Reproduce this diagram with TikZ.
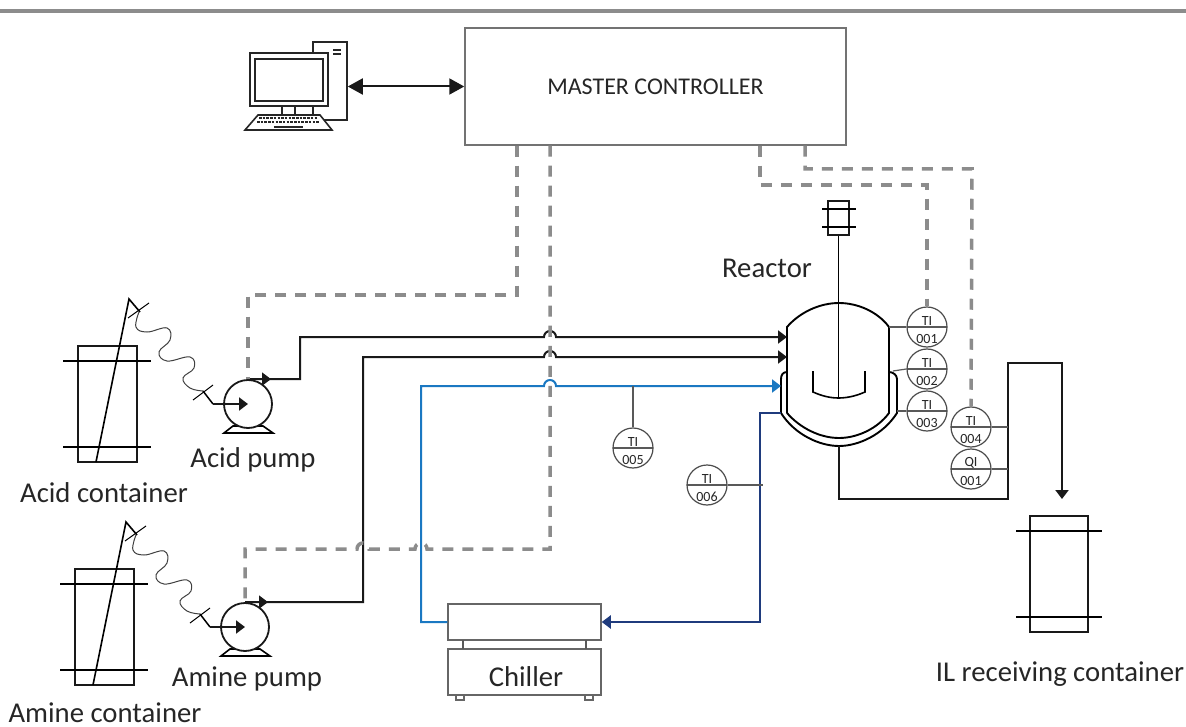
\documentclass[tikz,border=0pt]{standalone}
\usepackage{fontspec}
\setmainfont{Carlito}
\usetikzlibrary{arrows.meta, positioning}

\definecolor{signalgray}{HTML}{8C8C8C}
\definecolor{coolblue}{HTML}{1A78C2}
\definecolor{returnblue}{HTML}{1F3B7D}
\definecolor{textblack}{HTML}{262626}

\tikzset{
  pipe/.style={line width=2pt, black!90},
  tip/.style={-{Triangle[length=9pt,width=13pt]}},
  signal/.style={line width=3.5pt, signalgray, dash pattern=on 11pt off 9pt},
  thinline/.style={line width=1.2pt, black!65},
  lbl/.style={font=\fontsize{28.7}{31}\selectfont, text=textblack, inner sep=0pt},
  instrtext/.style={font=\fontsize{14}{15}\selectfont, text=textblack, inner sep=0pt},
  instr/.style 2 args={circle, draw=black!70, line width=1.2pt, fill=white, minimum size=40pt,
    inner sep=0pt,
    path picture={\draw[thinline] (path picture bounding box.west) -- (path picture bounding box.east);},
    label={[instrtext, yshift=6pt]center:#1},
    label={[instrtext, yshift=-12pt]center:#2}},
  box/.style={rectangle, draw=black!60, line width=1.5pt, fill=white, inner sep=0pt},
  pics/feedset/.style={code={
    % Container with dip tube
    \node[rectangle, draw=black!90, line width=1.8pt, minimum width=59pt, minimum height=116pt, inner sep=0pt] (tank) at (107.5,404) {};
    \draw[line width=1.3pt] (63,361) -- (151,361);
    \draw[line width=1.3pt] (63,447) -- (151,447);
    \draw[line width=1.6pt] (96,462) -- (129,299) -- (140,312);
    \draw[line width=1pt] (128,318) -- (149,303);
    % Hose
    \draw[line width=1pt, black!75] plot[smooth, tension=.7] coordinates {(139,312) (136,327) (147,332) (167,328) (170,340) (159,352) (167,361) (190,357) (194,368) (183,378) (190,388) (203,391)};
    \draw[line width=1pt] (193,400) -- (213,385);
    \draw[line width=1.5pt] (203,391) -- (213,404);
    % Pump
    \draw[line width=1.6pt, fill=white] (224,433) -- (233,426) -- (263,426) -- (273,433) -- cycle;
    \node[circle, draw=black!90, line width=1.8pt, fill=white, minimum size=48pt, inner sep=0pt] (pump) at (248,404) {};
    \draw[pipe, tip] (213,404) -- (pump.center);
    \draw[pipe, tip] (pump.north) -- ++(23,0);
  }}
}

\begin{document}
\begin{tikzpicture}[x=1pt, y=-1pt, node distance=42pt]
    \useasboundingbox (0,0) rectangle (1186,727);
    \fill[white] (0,0) rectangle (1186,727);
    \fill[black!45] (0,9) rectangle (1186,13);

    % Nodes
    \node[rectangle, draw=black!55, line width=1.5pt, minimum width=381pt, minimum height=117pt, inner sep=0pt,
      font=\fontsize{24}{27}\selectfont, text=textblack] (master) at (655.5,86.5) {MASTER CONTROLLER};

    \pic (acid) at (0,0) {feedset};
    \pic (amine) at (-3,223) {feedset};
    \node[lbl] (acidlabel) at (253,460) {Acid pump};
    \node[lbl] (acidtanklabel) at (104,493) {Acid container};
    \node[lbl] (aminelabel) at (247,679) {Amine pump};
    \node[lbl] (aminetanklabel) at (105,713) {Amine container};
    \node[lbl] (reactorlabel) at (767,268) {Reactor};

    \node[box, minimum width=153pt, minimum height=36pt] (chilltop) at (524.5,622) {};
    \node[box, minimum width=153pt, minimum height=46pt] (chillbase) at (524.5,672) {};
    \node[lbl] (chillerlabel) at (526,677) {Chiller};
    \node[box, minimum width=8pt, minimum height=5pt] (footleft) at (460,697.5) {};
    \node[box, minimum width=8pt, minimum height=5pt] (footright) at (589,697.5) {};
    \draw[thinline] (463,640) -- (463,649);
    \draw[thinline] (586,640) -- (586,649);

    \node[rectangle, draw=black!90, line width=1.8pt, minimum width=58pt, minimum height=116pt, inner sep=0pt] (receiver) at (1059,574) {};
    \draw[line width=1.3pt] (1016,531) -- (1102,531);
    \draw[line width=1.3pt] (1016,617) -- (1102,617);
    \node[lbl] (receiverlabel) at (1060,674) {IL receiving container};

    % Computer
    \node[rectangle, draw=black!85, line width=1.6pt, minimum width=34pt, minimum height=78pt, inner sep=0pt] (tower) at (330,81) {};
    \fill[black!85] (333,49) rectangle (341,51.5);
    \fill[black!85] (333,53) rectangle (341,55.5);
    \node[rectangle, draw=black!85, line width=1.6pt, fill=white, minimum width=78pt, minimum height=53pt, inner sep=0pt] (monitor) at (289,79.5) {};
    \node[rectangle, draw=black!85, line width=1.6pt, minimum width=68pt, minimum height=42pt, inner sep=0pt] (screen) at (289,80) {};
    \draw[line width=1.4pt, black!85] (282,106) -- (282,115);
    \draw[line width=1.4pt, black!85] (295,106) -- (295,115);
    \draw[line width=1.6pt, black!85, fill=white] (258,115) -- (320,115) -- (332,130) -- (245,130) -- cycle;
    \draw[line width=2pt, black!85, dash pattern=on 2.5pt off 1.2pt] (259,118.5) -- (317,118.5);
    \draw[line width=2pt, black!85, dash pattern=on 2.5pt off 1.2pt] (257,122.5) -- (319,122.5);
    \draw[line width=2pt, black!85] (274,127) -- (303,127);

    % Reactor
    \draw[line width=1.9pt] (787,413) -- (787,327) .. controls (800,312) and (820,303) .. (839,303)
      .. controls (858,303) and (878,312) .. (889,327) -- (889,413)
      .. controls (878,428) and (858,438) .. (839,438) .. controls (820,438) and (800,428) .. (787,413);
    \draw[line width=1.9pt] (787,372) .. controls (783,372) and (781,375) .. (781,379) -- (781,413)
      .. controls (795,435) and (820,446) .. (839,446) .. controls (858,446) and (883,435) .. (897,413)
      -- (897,379) .. controls (897,375) and (893,372) .. (889,372);
    \node[rectangle, draw=black!90, line width=1.6pt, minimum width=21pt, minimum height=34pt, inner sep=0pt] (motor) at (838.5,218) {};
    \draw[line width=1.3pt] (822,209) -- (856,209);
    \draw[line width=1.3pt] (822,227) -- (856,227);
    \draw[line width=1.6pt] (motor.south) -- (838.5,398);
    \draw[line width=1.6pt] (813,371) -- (813,392) .. controls (822,396) and (830,398) .. (838.5,398)
      .. controls (847,398) and (856,396) .. (865,392) -- (865,371);

    % Instruments
    \node[instr={TI}{001}] (ti001) at (927,327) {};
    \node[instr={TI}{002}, below of=ti001] (ti002) {};
    \node[instr={TI}{003}, below of=ti002] (ti003) {};
    \node[instr={TI}{004}] (ti004) at (971,427) {};
    \node[instr={QI}{001}, below of=ti004] (qi001) {};
    \node[instr={TI}{005}] (ti005) at (633,448) {};
    \node[instr={TI}{006}] (ti006) at (707,485) {};

    % Free ends on the reactor and the lines
    \coordinate (acidin) at (787,337);
    \coordinate (aminein) at (787,357);
    \coordinate (coolin) at (781,386);
    \coordinate (coolout) at (781,413);
    \coordinate (drain) at (839,446);
    \coordinate (receiverin) at (1062,499);

    % Arrows
    \draw[line width=2pt, black!90, <->, >={Triangle[length=15pt,width=16pt]}] (tower.east |- master.west) -- (master.west);
    \draw[pipe, tip] (acidpump.north) -| (300,337) -- (544,337) arc[start angle=180, end angle=360, radius=6] -- (acidin);
    \draw[pipe, tip] (aminepump.north) -| (363,357) -- (544,357) arc[start angle=180, end angle=360, radius=6] -- (aminein);
    \draw[line width=2pt, coolblue, tip] (chilltop.west) -| (421,386) -- (544,386) arc[start angle=180, end angle=360, radius=6] -- (coolin);
    \draw[line width=2pt, returnblue, tip] (coolout) -- (760,413) |- (chilltop.east);
    \draw[pipe, tip] (drain) |- (1008,499) |- (1062,363) -- (receiverin);

    % Signals
    \draw[signal] (517,0 |- master.south) -- (517,295) -- (248,295) -- (acidpump.north);
    \draw[signal] (550,0 |- master.south) -- (550,549) -- (427,549) arc[start angle=0, end angle=-180, radius=6] -- (369,549) arc[start angle=0, end angle=-180, radius=6] -- (245,549) -- (aminepump.north);
    \draw[signal] (760,0 |- master.south) -- (760,185) -- (927,185) -- (ti001.north);
    \draw[signal] (805,0 |- master.south) -- (805,169) -- (972,169) -- (ti004.north);

    % Instrument lines
    \draw[thinline] (889,327) -- (ti001.west);
    \draw[thinline] (893,371) -- (ti002.west);
    \draw[thinline] (897,411) -- (ti003.west);
    \draw[thinline] (ti004.east) -- (1008,427);
    \draw[thinline] (qi001.east) -- (1008,469);
    \draw[thinline] (633,386) -- (ti005.north);
    \draw[thinline] (ti006.east) -- (763,485);
\end{tikzpicture}
\end{document}
